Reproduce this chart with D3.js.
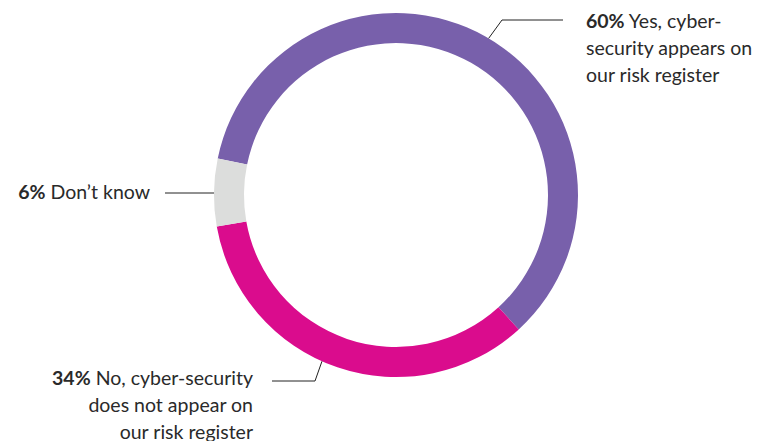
<!DOCTYPE html>
<html><head><meta charset="utf-8">
<script src="https://cdn.jsdelivr.net/npm/d3@7"></script>
<style>html,body{margin:0;padding:0;background:#fff;}svg{display:block;}</style>
</head><body>
<svg id="chart" width="759" height="441"></svg>
<script>
const categories = ["Yes", "No", "Don't know"];
const values = [60, 34, 6];
const percentLabels = ["60%", "34%", "6%"];
const labelLines = [
  ["Yes, cyber-", "security appears on", "our risk register"],
  ["No, cyber-security", "does not appear on", "our risk register"],
  ["Don\u2019t know"]
];
const colors = ["#7860AB", "#DA0C8D", "#DCDDDC"];

const svg = d3.select("#chart");
const cx = 396, cy = 195, rOuter = 182, rInner = 152;
const startDeg = -78.4;
const toRad = d => d * Math.PI / 180;

const pie = d3.pie().sort(null).value(d => d)
  .startAngle(toRad(startDeg)).endAngle(toRad(startDeg + 360));
const arcs = pie(values);
const arc = d3.arc().innerRadius(rInner).outerRadius(rOuter);

const g = svg.append("g").attr("transform", `translate(${cx},${cy})`);
g.selectAll("path").data(arcs).join("path")
  .attr("d", arc).attr("fill", (d, i) => colors[i]);

// label layout (leader angle in degrees, elbow, end, text anchor)
const layout = [
  {ang: 30.6, elbow: [502, 20], end: [563, 20], tx: 586, ty: 28, anchor: "start"},
  {ang: 204, elbow: [315, 381], end: [272, 381], tx: 253, ty: 385, anchor: "end"},
  {ang: 270.8, elbow: null, end: [165, 193], tx: 150, ty: 199, anchor: "end"}
];
const lh = 27;
const font = "Lato, 'Open Sans', sans-serif";

layout.forEach((L, i) => {
  const a = toRad(L.ang);
  const p0 = [cx + rOuter * Math.sin(a), cy - rOuter * Math.cos(a)];
  const pts = L.elbow ? [p0, L.elbow, L.end] : [[p0[0], L.end[1]], L.end];
  svg.append("path").attr("d", d3.line()(pts))
    .attr("fill", "none").attr("stroke", "#222").attr("stroke-width", 1);
  const t = svg.append("text").attr("x", L.tx).attr("y", L.ty)
    .attr("text-anchor", L.anchor).attr("font-family", font)
    .attr("font-size", "19.5px").attr("fill", "#2a2a2a");
  labelLines[i].forEach((line, j) => {
    const ts = t.append("tspan").attr("x", L.tx).attr("y", L.ty + j * lh);
    if (j === 0) {
      ts.append("tspan").attr("font-weight", "bold").text(percentLabels[i]);
      ts.append("tspan").text(" " + line);
    } else ts.text(line);
  });
});
</script>
</body></html>
